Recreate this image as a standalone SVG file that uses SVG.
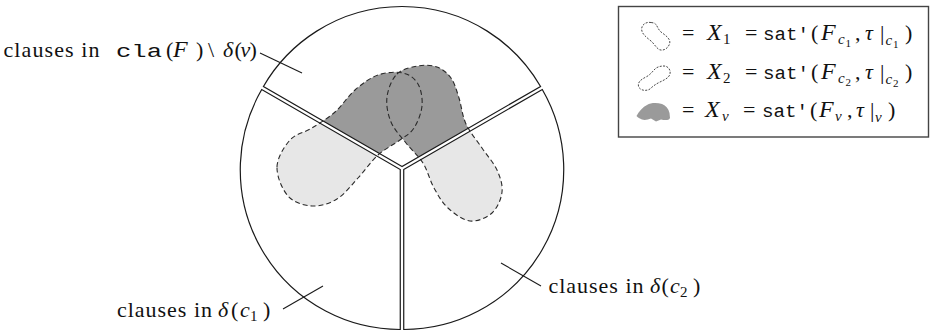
<svg xmlns="http://www.w3.org/2000/svg" xmlns:xlink="http://www.w3.org/1999/xlink" width="933" height="332" viewBox="0 0 933 332">
  <style>
    .sector { fill: none; stroke: #1a1a1a; stroke-width: 1.2; }
    .blob-outline { fill: none; stroke: #2a2a2a; stroke-width: 1.1; stroke-dasharray: 5 3; }
    .light { fill: #e7e7e7; }
    .dark { fill: #9a9a9a; }
    .leader { stroke: #1a1a1a; stroke-width: 1.1; fill: none; }
    .rm { font-family: "Liberation Serif", "Times New Roman", serif; font-size: 22px; fill: #111; }
    .it { font-family: "Liberation Serif", "Times New Roman", serif; font-style: italic; font-size: 22px; fill: #111; }
    .big { font-size: 24px; }
    .tt { font-family: "Liberation Mono", "Courier New", monospace; font-size: 19px; fill: #111; }
    .sub { font-size: 15px; }
    .subsub { font-size: 11px; }
    .icon-outline { fill: none; stroke: #333; stroke-width: 0.9; stroke-dasharray: 2 1.4; }
    .legend-box { fill: #fff; stroke: #444; stroke-width: 1.4; }
  </style>
  <defs>
    <!-- three pie slices, each pushed slightly outward so a thin gap separates them -->
    <path id="sec-top" d="M402,166.5 L263.44,86.5 A160,160 0 0 1 540.56,86.5 Z"/>
    <path id="sec-left" d="M400.27,169.5 L400.27,329.5 A160,160 0 0 1 261.71,89.5 Z"/>
    <path id="sec-right" d="M403.73,169.5 L542.29,89.5 A160,160 0 0 1 403.73,329.5 Z"/>
    <!-- solution set of the left child -->
    <path id="blob-a" d="M277,167 C277.3,157.7 284.2,146.5 290,140 C295.8,133.5 304.5,132.7 312,128 C319.5,123.3 327.8,118.3 335,112 C342.2,105.7 347.8,96.2 355,90 C362.2,83.8 370,77.8 378,75 C386,72.2 396.3,71.5 403,73 C409.7,74.5 414.8,78.5 418,84 C421.2,89.5 422.7,98.7 422,106 C421.3,113.3 417.7,122.3 414,128 C410.3,133.7 406,135.5 400,140 C394,144.5 385,148.7 378,155 C371,161.3 364.8,170.7 358,178 C351.2,185.3 344.7,194.3 337,199 C329.3,203.7 320.2,206.5 312,206 C303.8,205.5 293.8,202.5 288,196 C282.2,189.5 276.7,176.3 277,167 Z"/>
    <!-- solution set of the right child -->
    <path id="blob-b" d="M397,74 C402.2,68.8 411.3,67.2 418,66 C424.7,64.8 431.5,65 437,67 C442.5,69 447.3,72.8 451,78 C454.7,83.2 456.5,90.3 459,98 C461.5,105.7 462.2,115.7 466,124 C469.8,132.3 476.8,140.3 482,148 C487.2,155.7 493.7,162.7 497,170 C500.3,177.3 502.8,184.8 502,192 C501.2,199.2 497.3,208.2 492,213 C486.7,217.8 477.3,221.8 470,221 C462.7,220.2 454,213.5 448,208 C442,202.5 438.2,195.5 434,188 C429.8,180.5 427.7,170.5 423,163 C418.3,155.5 411.3,149.8 406,143 C400.7,136.2 394.2,129.7 391,122 C387.8,114.3 386,105 387,97 C388,89 391.8,79.2 397,74 Z"/>
    <clipPath id="clip-top">
      <path d="M402,166.5 L263.44,86.5 A160,160 0 0 1 540.56,86.5 Z"/>
    </clipPath>
    <clipPath id="clip-sides">
      <path d="M400.27,169.5 L400.27,329.5 A160,160 0 0 1 261.71,89.5 Z"/>
      <path d="M403.73,169.5 L542.29,89.5 A160,160 0 0 1 403.73,329.5 Z"/>
    </clipPath>
  </defs>

  <rect width="933" height="332" fill="#ffffff"/>

  <!-- shaded solution sets: dark inside the parent slice, light inside the child slices -->
  <g id="regions">
    <g clip-path="url(#clip-sides)">
      <use xlink:href="#blob-a" class="light"/>
      <use xlink:href="#blob-b" class="light"/>
    </g>
    <g clip-path="url(#clip-top)">
      <use xlink:href="#blob-a" class="dark"/>
      <use xlink:href="#blob-b" class="dark"/>
    </g>
    <use id="outline-a" xlink:href="#blob-a" class="blob-outline"/>
    <use id="outline-b" xlink:href="#blob-b" class="blob-outline"/>
  </g>

  <g id="node-v-slice"><use xlink:href="#sec-top" class="sector"/></g>
  <g id="node-c1-slice"><use xlink:href="#sec-left" class="sector"/></g>
  <g id="node-c2-slice"><use xlink:href="#sec-right" class="sector"/></g>

  <!-- leader lines from the labels to their slices -->
  <g id="connectors">
    <line class="leader" x1="260" y1="53" x2="302" y2="73"/>
    <line class="leader" x1="283" y1="309" x2="323" y2="286"/>
    <line class="leader" x1="501" y1="263" x2="541" y2="286"/>
  </g>

  <g id="label-v">
    <text class="rm" x="3.5" y="56.5" textLength="96" lengthAdjust="spacing">clauses in</text>
    <text class="tt" x="116" y="56.5" font-size="22" textLength="46" lengthAdjust="spacingAndGlyphs">cla</text>
    <text class="rm" x="166" y="56.5">(</text>
    <text class="it big" x="173" y="56.5">F</text>
    <text class="rm" x="196" y="56.5">)</text>
    <text class="rm" x="208" y="56.5">\</text>
    <text class="it" x="223" y="56.5">δ</text>
    <text class="rm" x="234.5" y="56.5">(</text>
    <text class="it" x="240.5" y="56.5">v</text>
    <text class="rm" x="249.5" y="56.5">)</text>
  </g>

  <g id="label-c1">
    <text class="rm" x="117" y="317" textLength="95" lengthAdjust="spacing">clauses in</text>
    <text class="it" x="218" y="317">δ</text>
    <text class="rm" x="231" y="317">(</text>
    <text class="it" x="240" y="317">c</text>
    <text class="rm sub" x="250" y="321">1</text>
    <text class="rm" x="263" y="317">)</text>
  </g>

  <g id="label-c2">
    <text class="rm" x="548.5" y="293" textLength="95" lengthAdjust="spacing">clauses in</text>
    <text class="it" x="650" y="293">δ</text>
    <text class="rm" x="661.5" y="293">(</text>
    <text class="it" x="670" y="293">c</text>
    <text class="rm sub" x="680" y="297">2</text>
    <text class="rm" x="693" y="293">)</text>
  </g>

  <g id="legend">
    <rect class="legend-box" x="618.5" y="6.5" width="310" height="130.5"/>

    <g id="legend-x1">
      <path class="icon-outline" d="M651,22.5 C646,21.5 641,25 641.7,30 C642.2,34 646,37 651,41 C654,43.5 655.5,47 659,49.5 C663,51.5 668.5,48.5 669.8,43 C670.5,38.5 665,35 661,32 C658,29.5 657.5,26 655.5,24 C654.5,23 653,22.7 651,22.5 Z"/>
      <text class="rm" x="682" y="40">=</text>
      <text class="it big" x="707" y="40">X</text>
      <text class="rm sub" x="723" y="44">1</text>
      <text class="rm" x="745" y="40">=</text>
      <text class="tt" x="763" y="40" textLength="46" lengthAdjust="spacingAndGlyphs">sat'</text>
      <text class="rm" x="811" y="40">(</text>
      <text class="it big" x="821" y="40">F</text>
      <text class="it sub" x="838" y="44">c</text>
      <text class="rm subsub" x="845.5" y="46.5">1</text>
      <text class="rm" x="855" y="40">,</text>
      <text class="it" x="865" y="40">τ</text>
      <text class="rm" x="880" y="40">|</text>
      <text class="it sub" x="885.5" y="45">c</text>
      <text class="rm subsub" x="893" y="47.5">1</text>
      <text class="rm" x="905" y="40">)</text>
    </g>

    <g id="legend-x2">
      <path class="icon-outline" d="M663,66 C668,65.5 671,70 670,74 C669,78 664,80 660,82 C656,84 653,86 650,89 C646,91.5 640,90.5 638.5,86.5 C637.5,82 641,79.5 646,77 C650,75 652,72 655,69 C657,67 660,66.2 663,66 Z"/>
      <text class="rm" x="682" y="79">=</text>
      <text class="it big" x="707" y="79">X</text>
      <text class="rm sub" x="723" y="83">2</text>
      <text class="rm" x="745" y="79">=</text>
      <text class="tt" x="763" y="79" textLength="46" lengthAdjust="spacingAndGlyphs">sat'</text>
      <text class="rm" x="811" y="79">(</text>
      <text class="it big" x="821" y="79">F</text>
      <text class="it sub" x="838" y="83">c</text>
      <text class="rm subsub" x="845.5" y="85.5">2</text>
      <text class="rm" x="855" y="79">,</text>
      <text class="it" x="865" y="79">τ</text>
      <text class="rm" x="880" y="79">|</text>
      <text class="it sub" x="885.5" y="84">c</text>
      <text class="rm subsub" x="893" y="86.5">2</text>
      <text class="rm" x="905" y="79">)</text>
    </g>

    <g id="legend-xv">
      <path class="dark" d="M636.5,116 C639,111 643,107 647,105 C651,102.5 657,102.5 662,104 C666,105.5 668.5,109 669.5,113 L670,118 C669,120.5 665,120.5 661,119.5 L656,121.5 L651,118.5 C648,119.5 645,120.5 642,119.5 C640,118.5 637.5,117.5 636.5,116 Z"/>
      <text class="rm" x="682" y="117">=</text>
      <text class="it big" x="705" y="117">X</text>
      <text class="it sub" x="722" y="121">v</text>
      <text class="rm" x="743" y="117">=</text>
      <text class="tt" x="762" y="117" textLength="46" lengthAdjust="spacingAndGlyphs">sat'</text>
      <text class="rm" x="810" y="117">(</text>
      <text class="it big" x="819" y="117">F</text>
      <text class="it sub" x="835" y="121">v</text>
      <text class="rm" x="847" y="117">,</text>
      <text class="it" x="856" y="117">τ</text>
      <text class="rm" x="870" y="117">|</text>
      <text class="it sub" x="875" y="122">v</text>
      <text class="rm" x="888" y="117">)</text>
    </g>
  </g>
</svg>
